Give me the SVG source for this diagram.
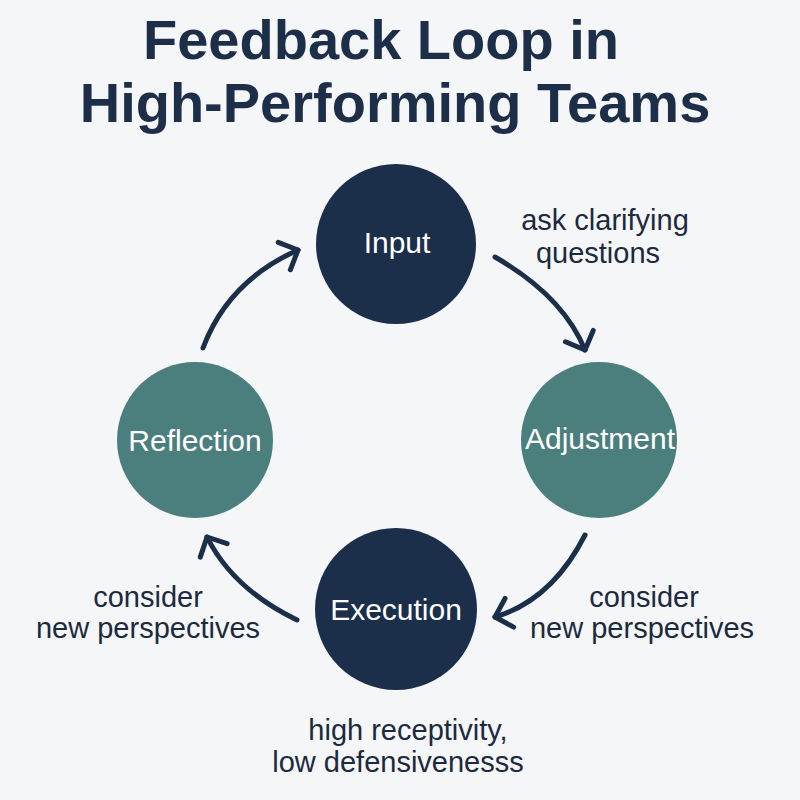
<svg xmlns="http://www.w3.org/2000/svg" width="800" height="800" viewBox="0 0 800 800">
  <style>
    .title { font-family: "Liberation Sans", Arial, sans-serif; font-weight: bold; font-size: 56px; fill: #1c2e48; text-anchor: middle; }
    .node-label { font-family: "Liberation Sans", Arial, sans-serif; font-size: 30px; fill: #ffffff; text-anchor: middle; }
    .note { font-family: "Liberation Sans", Arial, sans-serif; font-size: 29px; fill: #1c2a3e; text-anchor: middle; }
    .navy { fill: #1b2f4a; }
    .teal { fill: #4b7f7d; }
    .arrow { fill: none; stroke: #1b2f4a; stroke-width: 5; stroke-linecap: round; marker-end: url(#chev); }
  </style>
  <defs>
    <marker id="chev" markerUnits="userSpaceOnUse" viewBox="-20 -20 24 40" refX="0" refY="0" markerWidth="24" markerHeight="40" orient="auto" overflow="visible">
      <path d="M-15,-15 L0,0 L-15,15" fill="none" stroke="#1b2f4a" stroke-width="5" stroke-linecap="round" stroke-linejoin="round"/>
    </marker>
  </defs>
  <rect width="800" height="800" fill="#f5f6f7"/>
  <g id="title">
    <text class="title" x="381" y="59">Feedback Loop in</text>
    <text class="title" x="395" y="122">High-Performing Teams</text>
  </g>
  <g id="connectors">
    <path class="arrow" d="M203,348 Q228,281 298,250"/>
    <path class="arrow" d="M495,257 Q563,296 585,350"/>
    <path class="arrow" d="M585,535 Q552,600 495,617"/>
    <path class="arrow" d="M297,620 Q233,589 207,537"/>
  </g>
  <g id="node-input">
    <circle class="navy" cx="396" cy="244" r="80"/>
    <text class="node-label" x="397" y="253">Input</text>
  </g>
  <g id="node-adjustment">
    <circle class="teal" cx="599" cy="440" r="78"/>
    <text class="node-label" x="600" y="449">Adjustment</text>
  </g>
  <g id="node-execution">
    <circle class="navy" cx="396" cy="609" r="81"/>
    <text class="node-label" x="396" y="620">Execution</text>
  </g>
  <g id="node-reflection">
    <circle class="teal" cx="195" cy="440" r="78"/>
    <text class="node-label" x="195" y="451">Reflection</text>
  </g>
  <g id="labels">
    <text class="note" x="605" y="230">ask clarifying</text>
    <text class="note" x="598" y="263">questions</text>
    <text class="note" x="644" y="607">consider</text>
    <text class="note" x="642" y="638">new perspectives</text>
    <text class="note" x="148" y="607">consider</text>
    <text class="note" x="148" y="638">new perspectives</text>
    <text class="note" x="408" y="740">high receptivity,</text>
    <text class="note" x="398" y="772">low defensivenesss</text>
  </g>
</svg>
